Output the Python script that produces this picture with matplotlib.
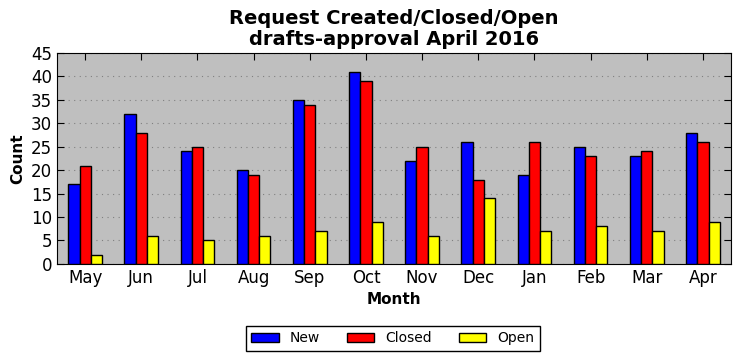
import numpy as np
from matplotlib import pyplot as plt

months = ['May', 'Jun', 'Jul', 'Aug', 'Sep', 'Oct', 'Nov', 'Dec', 'Jan', 'Feb', 'Mar', 'Apr']
new = [17, 32, 24, 20, 35, 41, 22, 26, 19, 25, 23, 28]
closed = [21, 28, 25, 19, 34, 39, 25, 18, 26, 23, 24, 26]
opened = [2, 6, 5, 6, 7, 9, 6, 14, 7, 8, 7, 9]

fig = plt.figure(figsize=(7.41, 3.61), dpi=100)
ax = fig.add_axes([0.077, 0.269, 0.9095, 0.584])
ax.set_facecolor('#bfbfbf')

x = np.arange(len(months))
w = 0.2
ax.bar(x - w, new, width=w, color='blue', edgecolor='black', linewidth=1, label='New', zorder=3)
ax.bar(x, closed, width=w, color='red', edgecolor='black', linewidth=1, label='Closed', zorder=3)
ax.bar(x + w, opened, width=w, color='yellow', edgecolor='black', linewidth=1, label='Open', zorder=3)

ax.set_xlim(-0.5, len(months) - 0.5)
ax.set_ylim(0, 45)
ax.set_yticks(range(0, 46, 5))
ax.set_xticks(x)
ax.set_xticklabels(months)
ax.tick_params(direction='in', top=True, right=True, labelsize=12, length=5)
ax.yaxis.grid(True, linestyle=(0, (1, 4)), color='#808080', linewidth=0.8, zorder=0)

ax.set_title('Request Created/Closed/Open\ndrafts-approval April 2016', fontsize=14, fontweight='bold', linespacing=1.1)
ax.set_xlabel('Month', fontsize=11, fontweight='bold')
ax.set_ylabel('Count', fontsize=11, fontweight='bold')

fig.legend(loc='center', bbox_to_anchor=(0.53, 0.063), ncol=3, fontsize=10,
           fancybox=False, edgecolor='black', framealpha=1, borderaxespad=0,
           handlelength=2.0, columnspacing=1.9)

fig.savefig('out.png', dpi=100)
